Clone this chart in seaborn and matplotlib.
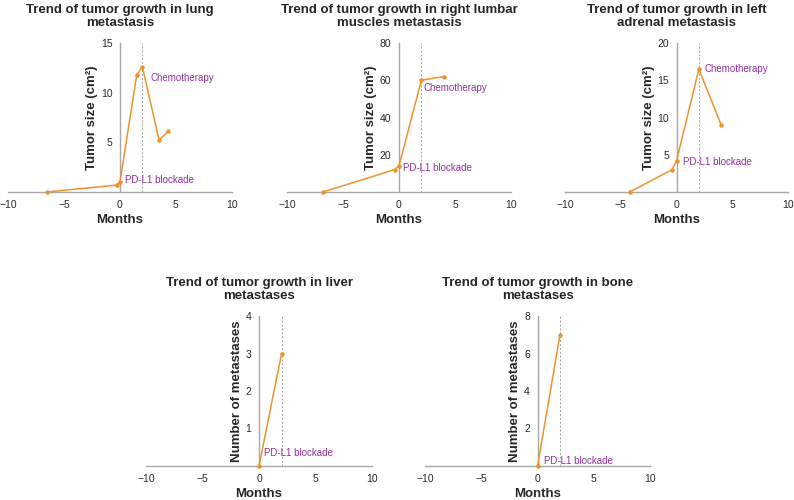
import matplotlib
matplotlib.use("Agg")
import matplotlib.pyplot as plt
import seaborn as sns
import pandas as pd

# data
lung_months = [-6.5, -0.3, 0, 1.5, 2, 3.5, 4.3]
lung_size = [0, 0.7, 1.0, 11.8, 12.6, 5.2, 6.1]

lumbar_months = [-6.8, -0.4, 0, 2, 4]
lumbar_size = [0, 12, 14, 60, 62]

adrenal_months = [-4.2, -0.4, 0, 2, 4]
adrenal_size = [0, 3, 4.2, 16.5, 9]

liver_months = [0, 2]
liver_count = [0, 3]

bone_months = [0, 2]
bone_count = [0, 7]

titles = [
    "Trend of tumor growth in lung\nmetastasis",
    "Trend of tumor growth in right lumbar\nmuscles metastasis",
    "Trend of tumor growth in left\nadrenal metastasis",
    "Trend of tumor growth in liver\nmetastases",
    "Trend of tumor growth in bone\nmetastases",
]
ylabels = ["Tumor size (cm²)"] * 3 + ["Number of metastases"] * 2
yticks = [[5, 10, 15], [20, 40, 60, 80], [5, 10, 15, 20], [1, 2, 3, 4], [2, 4, 6, 8]]
xticks = [-10, -5, 0, 5, 10]
chemo_month = 2

# annotation anchors (months, value)
pd_l1_pos = [(0.45, 1.2), (0.4, 12.9), (0.55, 4.0), (0.45, 0.35), (0.55, 0.27)]
chemo_pos = [(2.7, 11.5), (2.2, 55.8), (2.5, 16.5), None, None]

series = [
    (lung_months, lung_size),
    (lumbar_months, lumbar_size),
    (adrenal_months, adrenal_size),
    (liver_months, liver_count),
    (bone_months, bone_count),
]

sns.set_style("white")
plt.rcParams["font.family"] = ["Liberation Sans", "DejaVu Sans"]

orange = "#F0922B"
purple = "#93309E"
spine_gray = "#A8A8A8"

fig = plt.figure(figsize=(7.94, 5.0), dpi=100)
boxes = [
    [0.0101, 0.616, 0.282, 0.298],
    [0.3615, 0.616, 0.282, 0.298],
    [0.7116, 0.616, 0.281, 0.298],
    [0.1839, 0.068, 0.2846, 0.300],
    [0.5353, 0.068, 0.2834, 0.300],
]

for i, box in enumerate(boxes):
    ax = fig.add_axes(box)
    xs, ys = series[i]
    df = pd.DataFrame({"Months": xs, "Value": ys})
    sns.lineplot(data=df, x="Months", y="Value", ax=ax, color=orange,
                 marker="o", markersize=3.2, markeredgewidth=0, linewidth=1.1,
                 sort=False, clip_on=False, zorder=3)
    ymax = yticks[i][-1]
    ax.set_xlim(-10, 10)
    ax.set_ylim(0, ymax)
    ax.plot([chemo_month, chemo_month], [0, ymax], linestyle=(0, (2, 2)),
            color="#a0a0a0", linewidth=0.7, zorder=1)

    ax.spines["left"].set_position(("data", 0))
    ax.spines["top"].set_visible(False)
    ax.spines["right"].set_visible(False)
    for s in ("left", "bottom"):
        ax.spines[s].set_color(spine_gray)
        ax.spines[s].set_linewidth(1.0)

    ax.set_xticks(xticks)
    ax.set_yticks(yticks[i])
    ax.tick_params(axis="both", direction="out", length=3.5, width=0.8,
                   color=spine_gray, labelsize=7.5, labelcolor="#2a2a2a", pad=2)

    ax.set_xlabel("Months", fontsize=9.5, fontweight="bold", labelpad=3)
    ax.set_ylabel(ylabels[i], fontsize=9.5, fontweight="bold", labelpad=2)
    ax.set_title(titles[i], fontsize=9.5, fontweight="bold", pad=12,
                 linespacing=1.15)

    px, py = pd_l1_pos[i]
    ax.text(px, py, "PD-L1 blockade", color=purple, fontsize=7, va="center",
            ha="left")
    if chemo_pos[i] is not None:
        cx, cy = chemo_pos[i]
        ax.text(cx, cy, "Chemotherapy", color=purple, fontsize=7,
                va="center", ha="left")

fig.savefig("out.png", dpi=100)
